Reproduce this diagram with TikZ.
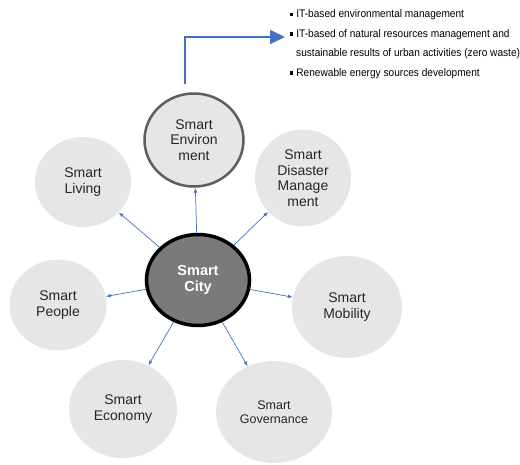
\documentclass[tikz,border=0pt]{standalone}
\usepackage{fontspec}
\setmainfont{Liberation Sans}
\newfontfamily\narrowfont{Liberation Sans}[FakeStretch=0.92]
\usetikzlibrary{arrows.meta, shapes.geometric}
\definecolor{cSat}{HTML}{E7E6E6}
\definecolor{cHub}{HTML}{7A7A7A}
\definecolor{cRing}{HTML}{5E5E5E}
\definecolor{cLink}{HTML}{4472C4}
\newcommand{\sqbul}{\rule[1.5pt]{3.2pt}{3.2pt}\hspace{3pt}}

\begin{document}
\begin{tikzpicture}[
    x=1pt, y=-1pt, font=\fontsize{14}{15.5}\selectfont,
    sat/.style={ellipse, fill=cSat, inner sep=0pt, align=center,
                text=black!85},
    ring/.style={draw=cRing, line width=2.5pt},
    hub/.style={ellipse, draw=black, line width=3.5pt, fill=cHub,
                inner sep=0pt, align=center, text=white,
                font=\bfseries\fontsize{14.5}{16.5}\selectfont},
    link/.style={draw=cLink, line width=0.7pt,
                 -{Latex[length=5pt,width=3.6pt]}},
    flow/.style={draw=cLink, line width=1.8pt,
                 -{Triangle[length=15pt,width=14pt]}},
    notes/.style={font=\narrowfont\fontsize{11}{19.5}\selectfont,
                  align=left, inner sep=0pt, text=black},
]
\useasboundingbox (0,0) rectangle (520,464);

% ===================== Satellites =====================
\node[sat, ring, minimum width=99pt, minimum height=93pt] (env) at (194,140)
     {Smart\\Environ\\ment};
\node[sat, minimum width=96pt, minimum height=97pt] (dis) at (303,178)
     {Smart\\Disaster\\Manage\\ment};
\node[sat, minimum width=96pt, minimum height=90pt] (liv) at (83,182)
     {Smart\\Living};
\node[sat, minimum width=97pt, minimum height=91pt] (peo) at (58,305)
     {Smart\\People};
\node[sat, minimum width=110pt, minimum height=102pt] (mob) at (347,307)
     {Smart\\Mobility};
\node[sat, minimum width=108pt, minimum height=98pt] (eco) at (123,409)
     {Smart\\Economy};
\node[sat, minimum width=116pt, minimum height=102pt,
      font=\fontsize{12.5}{14}\selectfont] (gov) at (274,412)
     {Smart\\Governance};

% ===================== Hub =====================
\node[hub, minimum width=103pt, minimum height=91pt] (city) at (198,280)
     {Smart\\City};

\foreach \t in {env,dis,mob,gov,eco,peo,liv}
    \draw[link] (city) -- (\t);

% ===================== Environment details =====================
\node[notes, anchor=north west] (list) at (290,9.5) {%
    \sqbul IT-based environmental management\\
    \sqbul IT-based of natural resources management and\\
    \hspace*{6pt}sustainable results of urban activities (zero waste)\\
    \sqbul Renewable energy sources development};

\coordinate (tail) at (185,84);
\coordinate (tip) at (285,37);
\draw[flow] (tail) |- (tip);

\end{tikzpicture}
\end{document}
